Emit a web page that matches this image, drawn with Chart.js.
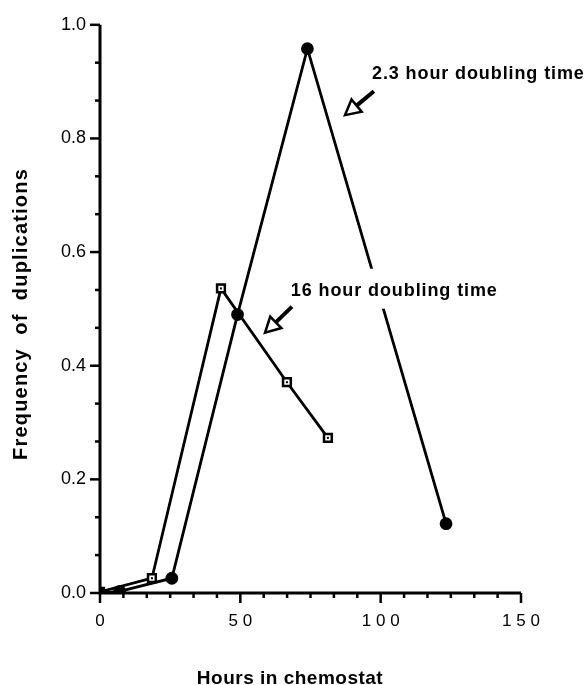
<!DOCTYPE html>
<html>
<head>
<meta charset="utf-8">
<script src="https://cdn.jsdelivr.net/npm/chart.js@4"></script>
<style>
  html, body { margin: 0; padding: 0; background: #fff; }
  #wrap { width: 588px; height: 685px; }
</style>
</head>
<body>
<div id="wrap"><canvas id="chart" width="588" height="685"></canvas></div>
<script>
// 2.3 hour doubling time (filled circles)
const fastHours = [0, 7, 25.6, 49, 73.9, 123.3];
const fastFreq = [0, 0.003, 0.026, 0.49, 0.958, 0.122];

// 16 hour doubling time (open squares)
const slowHours = [0, 18.5, 43.1, 66.6, 81.2];
const slowFreq = [0.002, 0.026, 0.536, 0.371, 0.273];

const xTicks = [0, 50, 100, 150];
const yTicks = [0, 0.2, 0.4, 0.6, 0.8, 1.0];

// annotation labels: text, anchor (hours, freq), arrow tail and head
const notes = [
  { text: "2.3 hour doubling time", x: 96.9, y: 0.914, tail: [97.6, 0.883], head: [87.3, 0.841] },
  { text: "16 hour doubling time", x: 68.0, y: 0.532, tail: [68.4, 0.504], head: [58.8, 0.458] },
];

const FONT = "'Liberation Sans', Arial, Helvetica, sans-serif";
const pts = (xs, ys) => xs.map((x, i) => ({ x: x, y: ys[i] }));

// ticks with long majors and short minors, plus axis lines and titles
const axesPlugin = {
  id: "axes",
  afterDraw(chart) {
    const c = chart.ctx;
    const xs = chart.scales.x, ys = chart.scales.y;
    const area = chart.chartArea;
    c.save();
    c.strokeStyle = "#000";
    c.lineWidth = 2.5;
    for (let i = 0; i <= 18; i++) {
      const px = xs.getPixelForValue(i * 50 / 6);
      const len = i % 6 === 0 ? 10 : 5;
      c.beginPath();
      c.moveTo(px, area.bottom);
      c.lineTo(px, area.bottom + len);
      c.stroke();
    }
    for (let i = 0; i <= 15; i++) {
      const py = ys.getPixelForValue(i / 15);
      const len = i % 3 === 0 ? 10 : 5;
      c.beginPath();
      c.moveTo(area.left, py);
      c.lineTo(area.left - len, py);
      c.stroke();
    }
    c.lineWidth = 3;
    c.beginPath();
    c.moveTo(area.left, area.top);
    c.lineTo(area.left, area.bottom);
    c.lineTo(area.right, area.bottom);
    c.stroke();

    // axis titles
    c.fillStyle = "#000";
    c.font = "bold 19px " + FONT;
    c.letterSpacing = "0.5px";
    c.textAlign = "center";
    c.textBaseline = "alphabetic";
    c.fillText("Hours in chemostat", 290, 684);

    c.translate(21, 314);
    c.rotate(-Math.PI / 2);
    c.font = "bold 20px " + FONT;
    c.letterSpacing = "1.2px";
    c.textBaseline = "middle";
    c.textAlign = "left";
    const words = ["Frequency", "of", "duplications"];
    const target = 292;
    const ws = words.map((w) => c.measureText(w).width);
    const gap = (target - ws.reduce((a, b) => a + b, 0)) / 2;
    let pos = -target / 2;
    words.forEach((w, i) => {
      c.fillText(w, pos, 0);
      pos += ws[i] + gap;
    });
    c.restore();
  },
};

const notePlugin = {
  id: "notes",
  afterDatasetsDraw(chart) {
    const c = chart.ctx;
    const xs = chart.scales.x, ys = chart.scales.y;
    c.save();

    // small dot inside each open square
    c.fillStyle = "#000";
    chart.getDatasetMeta(1).data.forEach((el) => {
      c.fillRect(el.x - 1, el.y - 1, 2, 2);
    });

    c.font = "bold 18px " + FONT;
    c.letterSpacing = "0.9px";
    c.textBaseline = "middle";
    notes.forEach((n) => {
      const lx = xs.getPixelForValue(n.x), ly = ys.getPixelForValue(n.y);
      const w = c.measureText(n.text).width;
      // the label sits on a white patch that breaks the lines behind it
      c.fillStyle = "#fff";
      c.fillRect(lx - 2, ly - 22, w + 4, 40);
      c.fillStyle = "#000";
      c.fillText(n.text, lx, ly);
      const tx = xs.getPixelForValue(n.tail[0]), ty = ys.getPixelForValue(n.tail[1]);
      const hx = xs.getPixelForValue(n.head[0]), hy = ys.getPixelForValue(n.head[1]);
      const ang = Math.atan2(hy - ty, hx - tx);
      const L = 15, W = 8;
      const bx = hx - Math.cos(ang) * L, by = hy - Math.sin(ang) * L;
      const nx = -Math.sin(ang), ny = Math.cos(ang);
      c.strokeStyle = "#000";
      c.lineWidth = 4;
      c.lineCap = "butt";
      c.beginPath();
      c.moveTo(tx, ty);
      c.lineTo(bx, by);
      c.stroke();
      c.lineWidth = 2.5;
      c.lineJoin = "miter";
      c.beginPath();
      c.moveTo(bx + nx * W, by + ny * W);
      c.lineTo(hx, hy);
      c.lineTo(bx - nx * W, by - ny * W);
      c.closePath();
      c.fillStyle = "#fff";
      c.fill();
      c.stroke();
    });
    c.restore();
  },
};

new Chart(document.getElementById("chart"), {
  type: "line",
  data: {
    datasets: [
      {
        label: "2.3 hour doubling time",
        data: pts(fastHours, fastFreq),
        borderColor: "#000",
        backgroundColor: "#000",
        borderWidth: 2.8,
        pointStyle: "circle",
        pointRadius: 5,
        pointBackgroundColor: "#000",
        tension: 0,
      },
      {
        label: "16 hour doubling time",
        data: pts(slowHours, slowFreq),
        borderColor: "#000",
        backgroundColor: "#fff",
        borderWidth: 2.8,
        pointStyle: "rect",
        pointRadius: 5.5,
        pointBorderWidth: 2.5,
        pointBackgroundColor: "#fff",
        tension: 0,
      },
    ],
  },
  plugins: [axesPlugin, notePlugin],
  options: {
    responsive: false,
    animation: false,
    layout: { padding: { left: 0, top: 21, right: 67, bottom: 0 } },
    plugins: { legend: { display: false }, tooltip: { enabled: false } },
    scales: {
      x: {
        type: "linear",
        min: 0,
        max: 150,
        afterFit: (s) => { s.height = 92; },
        afterBuildTicks: (s) => { s.ticks = xTicks.map((v) => ({ value: v })); },
        border: { display: false },
        grid: { display: false, drawTicks: false },
        ticks: {
          padding: 18,
          color: "#000",
          font: { family: FONT, size: 17 },
          callback: (v) => String(v).split("").join("\u2009\u200a"),
        },
      },
      y: {
        min: 0,
        max: 1,
        afterFit: (s) => { s.width = 100; },
        afterBuildTicks: (s) => { s.ticks = yTicks.map((v) => ({ value: v })); },
        border: { display: false },
        grid: { display: false, drawTicks: false },
        ticks: {
          padding: 14,
          color: "#000",
          font: { family: FONT, size: 18 },
          callback: (v) => v.toFixed(1),
        },
      },
    },
  },
});
</script>
</body>
</html>
